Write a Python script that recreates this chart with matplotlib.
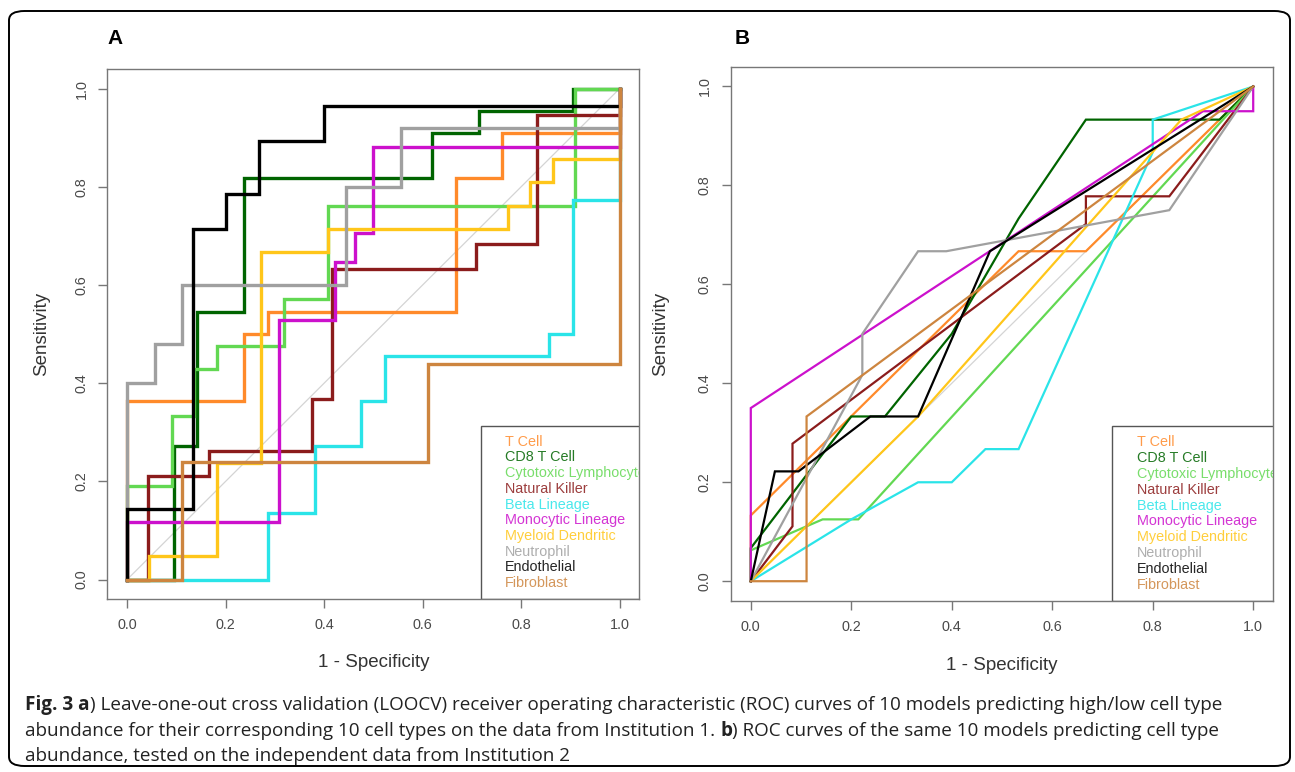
"""
ROC curves of the 10 cell type models (Fig. 3)
A: leave-one-out CV on Institution 1, B: independent test on Institution 2
"""
#%% ------------------------------- ###
###        0. Script Settings       ###
### ------------------------------- ###

import matplotlib
matplotlib.use('Agg')
import matplotlib.pyplot as plt
from matplotlib.patches import FancyBboxPatch, Rectangle
import numpy as np

plt.rcParams['font.family'] = ['Liberation Sans', 'DejaVu Sans']

cell_types = ['T Cell', 'CD8 T Cell', 'Cytotoxic Lymphocyte', 'Natural Killer',
              'Beta Lineage', 'Monocytic Lineage', 'Myeloid Dendritic',
              'Neutrophil', 'Endothelial', 'Fibroblast']
colours = ['#ff8a2a', '#006400', '#62d852', '#8b1c1c', '#2ae4e8',
           '#cc11cc', '#ffc61a', '#a0a0a0', '#000000', '#cd853f']

### Panel A - LOOCV, (1 - specificity, sensitivity) operating points
loocv_tcell = ([0, 0, .238, .238, .286, .286, .667, .667, .762, .762, 1, 1],
               [0, .364, .364, .5, .5, .545, .545, .818, .818, .909, .909, 1])
loocv_cd8 = ([0, .095, .095, .143, .143, .238, .238, .619, .619, .714, .714, .905, .905, 1],
             [0, 0, .273, .273, .545, .545, .818, .818, .909, .909, .955, .955, 1, 1])
loocv_cytotoxic = ([0, 0, .091, .091, .136, .136, .182, .182, .318, .318, .409, .409, .909, .909, 1],
                   [0, .19, .19, .333, .333, .429, .429, .476, .476, .571, .571, .762, .762, 1, 1])
loocv_nk = ([0, .042, .042, .167, .167, .375, .375, .417, .417, .708, .708, .833, .833, 1, 1],
            [0, 0, .211, .211, .263, .263, .368, .368, .632, .632, .684, .684, .947, .947, 1])
loocv_beta = ([0, .286, .286, .381, .381, .476, .476, .524, .524, .857, .857, .905, .905, 1, 1],
              [0, 0, .136, .136, .273, .273, .364, .364, .455, .455, .5, .5, .773, .773, 1])
loocv_monocytic = ([0, 0, .308, .308, .423, .423, .462, .462, .5, .5, 1, 1],
                   [0, .118, .118, .529, .529, .647, .647, .706, .706, .882, .882, 1])
loocv_myeloid = ([0, .045, .045, .182, .182, .273, .273, .409, .409, .773, .773, .818, .818, .864, .864, 1, 1],
                 [0, 0, .048, .048, .238, .238, .667, .667, .714, .714, .762, .762, .81, .81, .857, .857, 1])
loocv_neutrophil = ([0, 0, .056, .056, .111, .111, .444, .444, .556, .556, 1, 1],
                    [0, .4, .4, .48, .48, .6, .6, .8, .8, .92, .92, 1])
loocv_endothelial = ([0, 0, .133, .133, .2, .2, .267, .267, .4, .4, 1, 1],
                     [0, .143, .143, .714, .714, .786, .786, .893, .893, .964, .964, 1])
loocv_fibroblast = ([0, .111, .111, .611, .611, 1, 1],
                    [0, 0, .24, .24, .44, .44, 1])

### Panel B - Institution 2
inst2_tcell = ([0, 0, .533, .667, 1], [0, .133, .667, .667, 1])
inst2_cd8 = ([0, 0, .2, .267, .4, .533, .667, .933, 1],
             [0, .067, .333, .333, .5, .733, .933, .933, 1])
inst2_cytotoxic = ([0, 0, .143, .214, 1], [0, .0625, .125, .125, 1])
inst2_nk = ([0, .083, .083, .667, .667, .833, 1], [0, .111, .278, .722, .778, .778, 1])
inst2_beta = ([0, .2, .333, .4, .467, .533, .8, .8, 1],
              [0, .125, .2, .2, .267, .267, .867, .933, 1])
inst2_monocytic = ([0, 0, .9, 1, 1], [0, .35, .95, .95, 1])
inst2_myeloid = ([0, .333, .857, 1], [0, .333, .933, 1])
inst2_neutrophil = ([0, .222, .222, .333, .389, .833, 1], [0, .417, .5, .667, .667, .75, 1])
inst2_endothelial = ([0, .048, .095, .238, .333, .476, 1], [0, .222, .222, .333, .333, .667, 1])
inst2_fibroblast = ([0, .111, .111, 1], [0, 0, .333, 1])

loocv_curves = [loocv_tcell, loocv_cd8, loocv_cytotoxic, loocv_nk, loocv_beta,
                loocv_monocytic, loocv_myeloid, loocv_neutrophil, loocv_endothelial, loocv_fibroblast]
inst2_curves = [inst2_tcell, inst2_cd8, inst2_cytotoxic, inst2_nk, inst2_beta,
                inst2_monocytic, inst2_myeloid, inst2_neutrophil, inst2_endothelial, inst2_fibroblast]

caption_pieces = [
    [('Fig. 3 a', True), (') Leave-one-out cross validation (LOOCV) receiver operating characteristic (ROC) '
                          'curves of 10 models predicting high/low cell type', False)],
    [('abundance for their corresponding 10 cell types on the data from Institution 1.', False),
     ('b', True), (') ROC curves of the same 10 models predicting cell type', False)],
    [('abundance, tested on the independent data from Institution 2', False)],
]

#%% ------------------------------- ###
###        1. Plotting              ###
### ------------------------------- ###

def roc_panel(ax, curves, lw, ylab_x):
    ax.plot([0, 1], [0, 1], color='#d4d4d4', lw=0.9)
    for (fpr, tpr), col in zip(curves, colours):
        ax.plot(fpr, tpr, color=col, lw=lw, solid_joinstyle='miter')

    ax.set_xlim(-0.04, 1.04)
    ax.set_ylim(-0.04, 1.04)
    ticks = np.arange(0, 1.01, 0.2)
    labels = ['%.1f' % t for t in ticks]
    ax.set_xticks(ticks, labels)
    ax.set_yticks(ticks, labels)
    for lab in ax.get_yticklabels():
        lab.set_rotation(90)
        lab.set_va('center')

    for s in ax.spines.values():
        s.set_color('#777777')
        s.set_linewidth(1.0)
    ax.tick_params(direction='out', length=6.5, width=1.0, color='#777777',
                   labelsize=10.4, labelcolor='#4a4a4a', pad=7)

    ax.set_xlabel('1 - Specificity', fontsize=13.5, color='#333333')
    ax.set_ylabel('Sensitivity', fontsize=13.5, color='#333333')
    ax.xaxis.set_label_coords(0.5, -0.12)
    ax.xaxis.label.set_va('center')
    ax.yaxis.set_label_coords(ylab_x, 0.5)
    ax.yaxis.label.set_va('center')

    # R style legend in bottomright corner, text overflows the box
    ax.add_patch(Rectangle((0.702, 0), 0.4, 0.327, transform=ax.transAxes,
                           fill=False, ec='#555555', lw=1.0))
    for i, (name, col) in enumerate(zip(cell_types, colours)):
        t = ax.text(0.748, 0.297 - i * 0.0296, name, color=col, alpha=0.85,
                    transform=ax.transAxes, fontsize=10.4, va='center', clip_on=True)
        t.set_clip_box(ax.bbox)


fig = plt.figure(figsize=(12.95, 7.72), dpi=100)
W, H = 1295, 772

axA = fig.add_axes([107.3 / W, 1 - 599.3 / H, 532 / W, 530.3 / H])
axB = fig.add_axes([730.7 / W, 1 - 601 / H, 542.6 / W, 534.3 / H])
roc_panel(axA, loocv_curves, 2.4, -0.1227)
roc_panel(axB, inst2_curves, 1.6, -0.130)

for letter, px in [('A', 115), ('B', 742)]:
    fig.text(px / W, 1 - 38 / H, letter, fontsize=15, fontweight='bold',
             ha='center', va='center')

# Rounded frame around figure + caption
fig.add_artist(FancyBboxPatch((9 / W, 1 - 766 / H), 1281 / W, 755 / H,
                              boxstyle='round,pad=0,rounding_size=0.012',
                              transform=fig.transFigure, fill=False, ec='black', lw=1.4))

# Caption, bold pieces placed by measuring the text before them
renderer = fig.canvas.get_renderer()
cap_font = dict(family=['Open Sans', 'DejaVu Sans'], color='#222222')

def text_width(s, size, bold):
    t = fig.text(0, 0, s, fontsize=size, fontweight='bold' if bold else 'normal', **cap_font)
    w = t.get_window_extent(renderer).width
    t.remove()
    return w

size = 12.0
line1 = sum(text_width(s, size, b) for s, b in caption_pieces[0])
size = size * 1187 / line1
space = text_width('a a', size, False) - text_width('aa', size, False)

for line, base in zip(caption_pieces, [710, 735.5, 761]):
    x = 25
    for j, (s, bold) in enumerate(line):
        if j > 0 and not s.startswith(')'):
            x += space
        t = fig.text(x / W, 1 - base / H, s, fontsize=size, va='baseline',
                     fontweight='bold' if bold else 'normal', **cap_font)
        x += t.get_window_extent(renderer).width

fig.savefig('out.png', dpi=100)
